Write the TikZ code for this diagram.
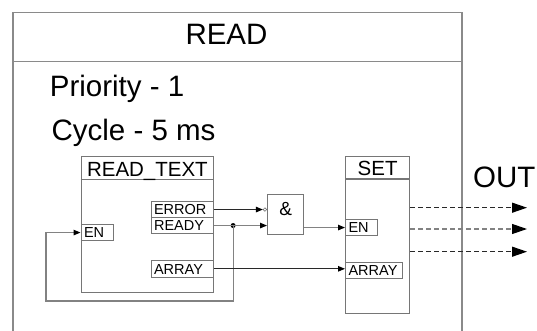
\documentclass[tikz,border=0pt]{standalone}
\usepackage{fontspec}
\setmainfont{Liberation Sans}
\usepackage{tikz}
\usetikzlibrary{arrows.meta,positioning,calc}
\definecolor{fbdframe}{RGB}{138,138,138}
\definecolor{fbdbox}{RGB}{118,118,118}
\definecolor{fbddark}{RGB}{40,40,40}
\definecolor{fbdlight}{RGB}{130,130,130}

\begin{document}
\begin{tikzpicture}[x=1pt,y=-1pt,
  bigtext/.style={font=\fontsize{29.5}{34}\selectfont,inner sep=0pt},
  frame/.style={draw=fbdframe,line width=1.6pt},
  block/.style={draw=fbdbox,line width=1.3pt,inner sep=0pt,anchor=north west},
  blocktitle/.style={font=\fontsize{20.5}{24}\selectfont,inner sep=0pt,anchor=base},
  port/.style={draw=fbdbox,line width=1.1pt,font=\fontsize{14.5}{16}\selectfont,
    inner xsep=3pt,inner ysep=0pt,text width=#1,align=left,text height=10.5pt,
    text depth=0pt,minimum height=16pt,anchor=north west},
  neg/.style={circle,draw=fbdbox,line width=.6pt,inner sep=0pt,minimum size=3.5pt,anchor=east},
  dot/.style={circle,fill=black,inner sep=0pt,minimum size=5pt},
  wire/.style={-{Triangle[length=7pt,width=5.5pt,color=black]},draw=fbddark,line width=1.2pt},
  lwire/.style={-{Triangle[length=7pt,width=5.5pt,color=black]},draw=fbdlight,line width=1.2pt},
  outflow/.style={-{Triangle[length=15pt,width=10pt,color=black]},line width=1.2pt,dash pattern=on 5pt off 3pt}]

\path[use as bounding box] (0,0) rectangle (537,331);
\draw[frame] (13,331) -- (13,12.7) -- (462,12.7) -- (462,331);
\draw[frame] (13,61.5) -- (462,61.5);
\node[bigtext,anchor=base] (title) at (226.5,44.5) {READ};
\node[bigtext,anchor=base west] (prio) at (49.7,96.6) {Priority - 1};
\node[bigtext,anchor=base west] (cycle) at (51.4,140) {Cycle - 5 ms};
\node[block,minimum width=132.5pt,minimum height=136pt] (rdtext) at (80.5,156) {};
\draw[block] ($(rdtext.north west)+(0,23.5)$) -- ($(rdtext.north east)+(0,23.5)$);
\node[blocktitle] (rdname) at ($(rdtext.north)+(0,20)$) {READ\_TEXT};
\node[port=26pt] (en1) at (80.5,224) {EN};
\node[port=56.5pt] (err) at (150.5,201) {ERROR};
\node[port=56.5pt] (rdy) at (150.5,217) {READY};
\node[port=56.5pt,minimum height=16.5pt] (arr1) at (150.5,260) {ARRAY};
\node[block,minimum width=36pt,minimum height=40pt] (gate) at (267,194) {};
\node[font=\fontsize{19}{22}\selectfont,inner sep=0pt] (andsym) at ($(gate.north)+(0,15)$) {\&};
\node[neg] (inv) at (gate.west |- err.east) {};
\node[block,minimum width=64pt,minimum height=157pt] (set) at (345,156) {};
\draw[block] ($(set.north west)+(0,23)$) -- ($(set.north east)+(0,23)$);
\node[blocktitle] (setname) at ($(set.north)+(0,19)$) {SET};
\node[port=26pt] (en2) at (345,219) {EN};
\node[port=51pt] (arr2) at (345,262) {ARRAY};
\node[dot] (tap) at ($(rdy.east)+(19,0)$) {};
\coordinate (loop) at (46,301);
\draw[wire] (err.east) -- (inv.west);
\draw[lwire] (rdy.east) -- (rdy.east -| gate.west);
\draw[lwire] (tap.center) |- (loop) |- (en1.west);
\draw[lwire] (en2.west -| gate.east) -- (en2.west);
\draw[wire] (arr1.east) -- (arr1.east -| arr2.west);
\foreach \yy/\cc [count=\ii] in {207.7/fbddark,229/fbdlight,251.7/fbddark}{
  \coordinate (out\ii) at (527,\yy);
  \draw[outflow,draw=\cc] (set.east |- out\ii) -- (out\ii);
}
\node[bigtext,anchor=base west] (outname) at (473,187) {OUT};

\end{tikzpicture}
\end{document}
